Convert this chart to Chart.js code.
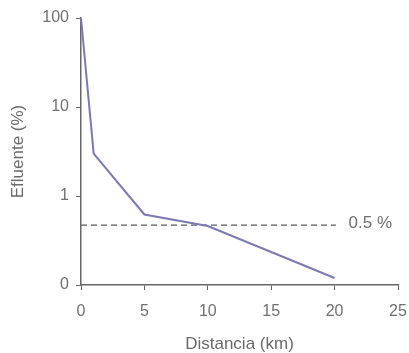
<!DOCTYPE html>
<html>
<head>
<meta charset="utf-8">
<script src="https://cdn.jsdelivr.net/npm/chart.js@4"></script>
<style>
  html, body { margin: 0; padding: 0; background: #fff; }
  #wrap { width: 409px; height: 353px; }
</style>
</head>
<body>
<div id="wrap"><canvas id="chart1"></canvas></div>
<script>
// datos
var distancia = [0, 1, 5, 10, 20];
var efluente = [100, 3.0, 0.62, 0.46, 0.12];
var refX = [0, 20.1];
var refY = [0.47, 0.47];
var etiquetaRef = '0.5 %';
var xTicks = [0, 5, 10, 15, 20, 25];
var yTicks = [0.1, 1, 10, 100];

var gris = '#666';
var fuente = "'Liberation Sans', Arial, sans-serif";

// texto "0.5 %" al final de la linea de referencia
var refLabel = {
    id: 'refLabel',
    afterDatasetsDraw: function(chart) {
        var ctx = chart.ctx;
        var x = chart.scales.x.getPixelForValue(21.1);
        var y = chart.scales.y.getPixelForValue(refY[1]);
        ctx.save();
        ctx.font = '17px ' + fuente;
        ctx.fillStyle = '#6e6e6e';
        ctx.textAlign = 'left';
        ctx.textBaseline = 'middle';
        ctx.fillText(etiquetaRef, x, y - 2);
        ctx.restore();
    }
};

var ctx = document.getElementById('chart1');
var chart1 = new Chart(ctx, {
    type: 'line',
    data: {
        datasets: [{
            data: distancia.map(function(d, i){ return {x: d, y: efluente[i]}; }),
            borderColor: '#7a79b3',
            borderWidth: 2,
            pointRadius: 0,
            tension: 0,
            clip: false
        }, {
            data: refX.map(function(d, i){ return {x: d, y: refY[i]}; }),
            borderColor: '#5a5a5a',
            borderWidth: 1.2,
            borderDash: [6, 4],
            pointRadius: 0,
            clip: false
        }]
    },
    options: {
        responsive: true,
        maintainAspectRatio: false,
        animation: false,
        layout: { padding: { top: 18, right: 11, left: 0, bottom: 0 } },
        plugins: {
            legend: { display: false },
            tooltip: { enabled: false }
        },
        scales: {
            x: {
                type: 'linear',
                min: 0,
                max: 25,
                afterBuildTicks: function(scale){
                    scale.ticks = xTicks.map(function(v){ return {value: v}; });
                },
                afterFit: function(scale){
                    scale.height = 68;
                    scale.paddingRight = 0;
                    scale.paddingLeft = 0;
                },
                border: { display: true, color: gris, width: 1.5 },
                grid: { drawOnChartArea: false, drawTicks: true, tickLength: 5, color: gris },
                ticks: { color: '#707070', font: { size: 16, family: fuente }, padding: 12, maxRotation: 0 },
                title: {
                    display: true,
                    text: 'Distancia (km)',
                    color: '#6a6a6a',
                    font: { size: 17, family: fuente, lineHeight: 1 },
                    padding: { top: 0, bottom: 0 }
                }
            },
            y: {
                type: 'logarithmic',
                min: 0.1,
                max: 100,
                afterBuildTicks: function(scale){
                    scale.ticks = yTicks.map(function(v){ return {value: v}; });
                },
                afterFit: function(scale){
                    scale.width = 81;
                    scale.paddingTop = 0;
                    scale.paddingBottom = 0;
                },
                border: { display: true, color: gris, width: 1.5 },
                grid: { drawOnChartArea: false, drawTicks: true, tickLength: 5, color: gris },
                ticks: {
                    color: '#707070',
                    font: { size: 16, family: fuente },
                    padding: 7,
                    callback: function(v){ return v < 1 ? '0' : String(v); }
                },
                title: {
                    display: true,
                    text: 'Efluente (%)',
                    color: '#6a6a6a',
                    font: { size: 17, family: fuente },
                    padding: { top: 8, bottom: 0 }
                }
            }
        }
    },
    plugins: [refLabel]
});
</script>
</body>
</html>
